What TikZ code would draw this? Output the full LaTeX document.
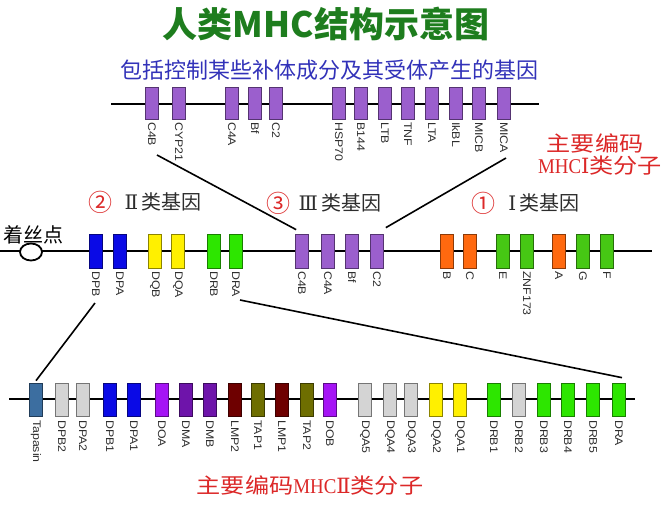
\documentclass[tikz,border=0pt]{standalone}
\usepackage{fontspec}
\setmainfont{Liberation Sans}
\newfontfamily\cjk{Noto Sans CJK SC}
\newfontfamily\cjkw[FakeStretch=1.15]{Noto Sans CJK SC}
\newfontfamily\lblfont[FakeStretch=1.12]{Liberation Sans}
\newfontfamily\rnum{DejaVu Serif}
\newfontfamily\mhcfont[FakeStretch=0.9]{Liberation Serif}
\usetikzlibrary{calc,shapes.geometric}
\definecolor{purp}{RGB}{155,95,205}
\definecolor{blueG}{RGB}{10,10,230}
\definecolor{yellowG}{RGB}{255,240,0}
\definecolor{greenB}{RGB}{45,230,0}
\definecolor{greenI}{RGB}{70,200,20}
\definecolor{orangeI}{RGB}{255,105,15}
\definecolor{steel}{RGB}{60,110,160}
\definecolor{grayG}{RGB}{212,212,212}
\definecolor{violetG}{RGB}{165,20,245}
\definecolor{dpurple}{RGB}{110,20,170}
\definecolor{dred}{RGB}{110,0,0}
\definecolor{olive}{RGB}{110,110,0}
\definecolor{titlegreen}{RGB}{30,125,30}
\definecolor{subblue}{RGB}{50,50,185}
\definecolor{redtxt}{RGB}{220,40,40}
\definecolor{lbl}{RGB}{45,45,45}
\tikzset{
  gbox/.style={draw=#1!55!black, fill=#1, minimum width=13pt, minimum height=33pt, inner sep=0pt, line width=0.7pt},
  glabel/.style={rotate=-90, anchor=west, inner sep=0pt, text=lbl, font=\lblfont\fontsize{11}{11}\selectfont},
  chrom/.style={line width=1.8pt, draw=black},
  conn/.style={line width=1.6pt, draw=black},
  classtxt/.style={font=\cjk\fontsize{20}{20}\selectfont, text=lbl, inner sep=0pt},
  circnum/.style={font=\cjk\fontsize{24}{24}\selectfont, text=redtxt, inner sep=0pt},
  redlbl/.style={font=\cjkw\fontsize{21}{21}\selectfont, text=redtxt, inner sep=0pt}
}
\begin{document}
\begin{tikzpicture}[x=1pt,y=-1pt]
\useasboundingbox (0,0) rectangle (671,505);
\fill[white] (0,0) rectangle (671,505);

% titles
\node[font=\cjk\fontsize{35}{35}\selectfont\bfseries, text=titlegreen, inner sep=0pt] (title) at (326,24) {人类MHC结构示意图};
\node[font=\cjk\fontsize{22}{22}\selectfont, text=subblue, inner sep=0pt] (subtitle) at (329,70) {包括控制某些补体成分及其受体产生的基因};

% backbones
\coordinate (tL) at (111,104); \coordinate (tR) at (539,104);
\coordinate (mL) at (0,251); \coordinate (mR) at (652,251);
\coordinate (bL) at (9,399); \coordinate (bR) at (635,399);
\draw[chrom] (tL) -- (tR);
\draw[chrom] (mL) -- (mR);
\draw[chrom] (bL) -- (bR);
\node[draw=black, line width=1.8pt, fill=white, ellipse, minimum width=22pt, minimum height=17pt, inner sep=0pt] (centro) at (31,252) {};
\node[font=\cjk\fontsize{20}{20}\selectfont, inner sep=0pt] (centrolbl) at (33,235) {着丝点};

% top row
\foreach \n/\x in {C4B/152, CYP21/179, C4A/232, Bf/255, C2/276, HSP70/339, B144/361, LTB/385, TNF/408, LTA/432, IkBL/456, MICB/479, MICA/504}{
  \node[gbox=purp, minimum height=32pt] (t\n) at (\x,103) {};
  \node[glabel] (tl\n) at (\x,122) {\n};
}

% middle row
\foreach \n/\x/\c in {DPB/96/blueG, DPA/120/blueG, DQB/155/yellowG, DQA/178/yellowG, DRB/214/greenB, DRA/236/greenB, C4B/302/purp, C4A/328/purp, Bf/352/purp, C2/377/purp, B/447/orangeI, C/470/orangeI, E/503/greenI, ZNF173/527/greenI, A/559/orangeI, G/583/greenI, F/607/greenI}{
  \node[gbox=\c, minimum height=34pt] (m\n) at (\x,251) {};
  \node[glabel] (ml\n) at (\x,271) {\n};
}

% bottom row
\foreach \n/\x/\c in {Tapasin/36/steel, DPB2/62/grayG, DPA2/83/grayG, DPB1/110/blueG, DPA1/134/blueG, DOA/162/violetG, DMA/186/dpurple, DMB/210/dpurple, LMP2/235/dred, TAP1/258/olive, LMP1/282/dred, TAP2/307/olive, DOB/330/violetG, DQA5/365/grayG, DQA4/390/grayG, DQA3/411/grayG, DQA2/436/yellowG, DQA1/460/yellowG, DRB1/494/greenB, DRB2/519/grayG, DRB3/544/greenB, DRB4/568/greenB, DRB5/593/greenB, DRA/619/greenB}{
  \node[gbox=\c] (b\n) at (\x,399.5) {};
  \node[glabel] (bl\n) at (\x,420) {\n};
}

% class headings
\node[circnum] (n2) at (100,202) {②};
\node[classtxt] (c2txt) at (163,202) {{\rnum Ⅱ}\,类基因};
\node[circnum] (n3) at (278,203) {③};
\node[classtxt] (c3txt) at (340,203) {{\rnum Ⅲ}\,类基因};
\node[circnum] (n1) at (483,203) {①};
\node[classtxt] (c1txt) at (544,203) {{\rnum Ⅰ}\,类基因};

% red notes
\node[redlbl] (r1) at (595,143) {主要编码};
\node[redlbl] (r2) at (600,166) {{\mhcfont MHC{\rnum Ⅰ}}类分子};
\node[redlbl] (r3) at (310,485) {主要编码{\mhcfont MHC{\rnum Ⅱ}}类分子};

% connectors
\coordinate (k1) at (157,155);
\coordinate (k2) at (506,158);
\coordinate (k3) at (95,303);
\coordinate (k4) at (240,300);
\draw[conn] (k1) -- ($(mC4B.north west)+(1,-4)$);
\draw[conn] (k2) -- ($(mC2.north east)+(2,-6)$);
\draw[conn] (k3) -- ($(bTapasin.north)+(0,-2)$);
\draw[conn] (k4) -- ($(bDRA.north)+(3,-5)$);
\end{tikzpicture}
\end{document}
